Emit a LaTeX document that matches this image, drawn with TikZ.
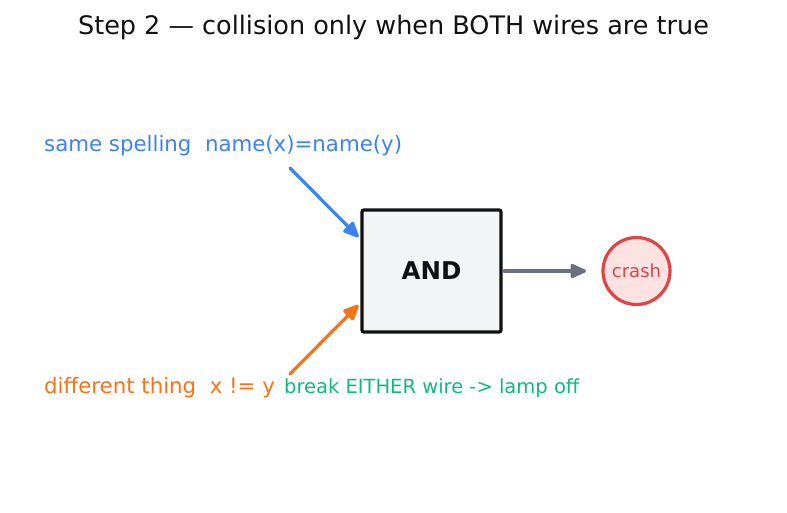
\documentclass[tikz,border=0pt]{standalone}
\usepackage{fontspec}
\setmainfont{DejaVu Sans}
\usetikzlibrary{arrows.meta,positioning,calc}
\definecolor{titleink}{RGB}{17,17,17}
\definecolor{wireblue}{RGB}{59,130,246}
\definecolor{wireorange}{RGB}{249,115,22}
\definecolor{notegreen}{RGB}{16,185,129}
\definecolor{gateedge}{RGB}{17,17,17}
\definecolor{gatefill}{RGB}{243,244,246}
\definecolor{outgray}{RGB}{107,112,128}
\definecolor{crashred}{RGB}{225,68,68}
\definecolor{crashfill}{RGB}{253,226,226}
\tikzset{
  label/.style={anchor=base west, inner sep=0pt, font=\fontsize{21.3}{24}\selectfont},
  gate/.style={rectangle, rounded corners=2pt, draw=gateedge, fill=gatefill, line width=3.2pt, minimum width=139pt, minimum height=122pt, font=\bfseries\fontsize{24.5}{27}\selectfont, text=gateedge},
  lamp/.style={circle, draw=crashred, fill=crashfill, line width=3.2pt, minimum size=67pt, inner sep=0pt, text=crashred, font=\fontsize{18}{20}\selectfont},
  wire/.style={-{Triangle[length=18pt,width=15pt,round]}, line width=3.2pt, line cap=round}
}
\begin{document}
\begin{tikzpicture}[x=1pt, y=-1pt]
\useasboundingbox (0,0) rectangle (787,512);
\node[anchor=base, inner sep=0pt, text=titleink, font=\fontsize{25.5}{28}\selectfont] (title) at (393.5,34) {Step 2 — collision only when BOTH wires are true};
\node[label, text=wireblue] (same) at (44,151) {same spelling\ \ name(x)=name(y)};
\node[label, text=wireorange] (diff) at (44,393) {different thing\ \ x != y};
\node[label, text=notegreen, font=\fontsize{19.5}{22}\selectfont] (note) at (284,393) {break EITHER wire -> lamp off};
\node[gate] (and) at (431.5,271) {AND};
\node[lamp] (crash) at (636.5,271) {crash};
\coordinate (samein) at (290,168);
\coordinate (diffin) at (290,374);
\coordinate (andout) at (586,271);
\draw[wire, draw=wireblue, fill=wireblue] (samein) -- ([shift={(-2pt,34pt)}]and.west);
\draw[wire, draw=wireorange, fill=wireorange] (diffin) -- ([shift={(-2pt,-34pt)}]and.west);
\draw[wire, draw=outgray, fill=outgray] ([xshift=1.6pt]and.east) -- (andout);
\end{tikzpicture}
\end{document}
